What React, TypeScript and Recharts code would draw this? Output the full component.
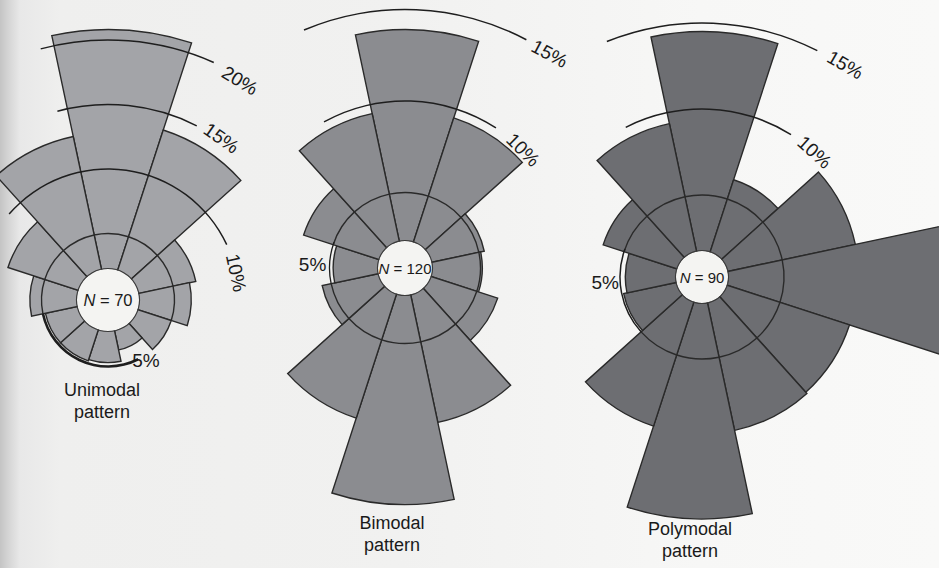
import React from 'react'
import {
  RadialBarChart,
  RadialBar,
  PolarAngleAxis,
  PolarRadiusAxis,
  PieChart,
  Pie,
  Cell,
} from 'recharts'

const W = 939
const H = 568
const FONT = '"Liberation Sans", Arial, Helvetica, sans-serif'

// 12 direction classes of 30 degrees, clockwise from north
const directions = ['N', 'NNE', 'ENE', 'E', 'ESE', 'SSE', 'S', 'SSW', 'WSW', 'W', 'WNW', 'NNW']

// percent of observations per direction class
const unimodalValues = [20.8, 13.7, 6.8, 6.3, 5.0, 3.8, 4.7, 4.8, 4.8, 5.9, 8.0, 12.8]
const bimodalValues = [13.9, 9.5, 5.3, 5.1, 6.2, 9.5, 13.8, 9.5, 5.5, 4.8, 6.7, 9.5]
const polymodalValues = [14.4, 6.0, 9.2, 17.5, 9.1, 9.2, 14.2, 9.2, 4.7, 4.5, 6.1, 9.2]

const sampleSizes = [70, 120, 90]
const captionLines = [
  ['Unimodal', 'pattern'],
  ['Bimodal', 'pattern'],
  ['Polymodal', 'pattern'],
]

const RING = 5 // the inner reference circle drawn across the petals
const VMAX = 25
const ROT = 3 // the scan is turned a little

type ArcSpec = {
  pct: number
  from: number
  to: number
  w: number
  text: string
  at: number
  off: number
  tilt?: number
  upright?: boolean
}

type RoseCfg = {
  values: number[]
  n: number
  caption: string[]
  cx: number
  cy: number
  a: number
  b: number
  hole: number
  fill: string
  nSize: number
  capX: number
  capY: number
  arcs: ArcSpec[]
}

const roses: RoseCfg[] = [
  {
    values: unimodalValues,
    n: sampleSizes[0],
    caption: captionLines[0],
    cx: 108,
    cy: 300,
    a: 2,
    b: 12.9,
    hole: 31,
    fill: '#a3a4a8',
    nSize: 16.5,
    capX: 102,
    capY: 396,
    arcs: [
      { pct: 5, from: 153, to: 258, w: 2.6, text: '5%', at: 148, off: 5, upright: true },
      { pct: 10, from: -49, to: 65, w: 1.5, text: '10%', at: 78, off: 0 },
      { pct: 15, from: -15, to: 27, w: 1.5, text: '15%', at: 35, off: 2 },
      { pct: 20, from: -15, to: 24, w: 1.5, text: '20%', at: 31, off: -4 },
    ],
  },
  {
    values: bimodalValues,
    n: sampleSizes[1],
    caption: captionLines[1],
    cx: 405,
    cy: 268,
    a: -16,
    b: 18.3,
    hole: 27,
    fill: '#8b8c90',
    nSize: 15,
    capX: 392,
    capY: 529,
    arcs: [
      { pct: 5, from: 258, to: 290, w: 1.3, text: '5%', at: 272, off: 17, upright: true },
      { pct: 10, from: -29, to: 33, w: 1.5, text: '10%', at: 45, off: 0 },
      { pct: 15, from: -23, to: 28, w: 1.5, text: '15%', at: 34, off: 0, tilt: -6 },
    ],
  },
  {
    values: polymodalValues,
    n: sampleSizes[2],
    caption: captionLines[2],
    cx: 702,
    cy: 277,
    a: -4,
    b: 17.2,
    hole: 26,
    fill: '#6d6e72',
    nSize: 15,
    capX: 690,
    capY: 535,
    arcs: [
      { pct: 5, from: 228, to: 290, w: 1.5, text: '5%', at: 267, off: 15, upright: true },
      { pct: 10, from: -27, to: 32, w: 1.5, text: '10%', at: 42, off: 0 },
      { pct: 15, from: -22, to: 27, w: 1.5, text: '15%', at: 34, off: 2, tilt: -4 },
    ],
  },
]

const toChartAngle = (compass: number) => 90 - compass

function Rose({ cfg }: { cfg: RoseCfg }) {
  const data = directions.map((dir, i) => ({ dir, v: cfg.values[i], slot: 1 }))
  const rad = (p: number) => cfg.a + cfg.b * p
  const d0 = -cfg.a / cfg.b
  const R = rad(VMAX)
  // first class spans compass -15+ROT .. 15+ROT, going clockwise
  const pieStart = toChartAngle(-15 + ROT)
  const pieEnd = pieStart - 360
  // the radial bar chart places each band one step later than the pie does
  const barStart = pieStart - 30
  const barEnd = barStart - 360
  const r5 = rad(RING)

  const pt = (compass: number, r: number) => {
    const t = (compass * Math.PI) / 180
    return { x: cfg.cx + r * Math.sin(t), y: cfg.cy - r * Math.cos(t) }
  }

  return (
    <>
      <div style={{ position: 'absolute', left: 0, top: 0 }}>
        <RadialBarChart
          width={W}
          height={H}
          data={data}
          cx={cfg.cx}
          cy={cfg.cy}
          innerRadius={0}
          outerRadius={R}
          startAngle={barStart}
          endAngle={barEnd}
          layout="centric"
          barCategoryGap={0}
          barGap={0}
          margin={{ top: 0, right: 0, bottom: 0, left: 0 }}
        >
          <PolarAngleAxis type="category" dataKey="dir" tick={false} tickLine={false} axisLine={false} />
          <PolarRadiusAxis
            type="number"
            domain={[d0, VMAX]}
            allowDataOverflow
            tick={false}
            axisLine={false}
            tickLine={false}
          />
          <RadialBar
            dataKey="v"
            fill={cfg.fill}
            stroke="#2a2a2a"
            strokeWidth={1.4}
            isAnimationActive={false}
          />
        </RadialBarChart>
      </div>
      <div style={{ position: 'absolute', left: 0, top: 0 }}>
        <PieChart width={W} height={H} margin={{ top: 0, right: 0, bottom: 0, left: 0 }}>
          {/* 5% circle, only inside the petals that pass it */}
          <Pie
            data={data}
            dataKey="slot"
            cx={cfg.cx}
            cy={cfg.cy}
            innerRadius={r5 - 0.7}
            outerRadius={r5 + 0.7}
            startAngle={pieStart}
            endAngle={pieEnd}
            stroke="none"
            isAnimationActive={false}
          >
            {data.map((d) => (
              <Cell key={d.dir} fill={d.v > RING ? '#2a2a2a' : 'transparent'} />
            ))}
          </Pie>
          {cfg.arcs.map((arc) => {
            const r = rad(arc.pct)
            return (
              <Pie
                key={arc.text}
                data={[{ arc: 1 }]}
                dataKey="arc"
                cx={cfg.cx}
                cy={cfg.cy}
                innerRadius={r - arc.w / 2}
                outerRadius={r + arc.w / 2}
                startAngle={toChartAngle(arc.from)}
                endAngle={toChartAngle(arc.to)}
                fill="#1e1e1e"
                stroke="none"
                isAnimationActive={false}
                labelLine={false}
                label={() => {
                  const p = pt(arc.at, r + arc.off)
                  const turn = arc.at + (arc.tilt ?? 0)
                  return (
                    <text
                      x={p.x}
                      y={p.y}
                      textAnchor="middle"
                      dominantBaseline="central"
                      fontSize={19}
                      fontFamily={FONT}
                      fill="#1a1a1a"
                      transform={arc.upright ? undefined : `rotate(${turn}, ${p.x}, ${p.y})`}
                    >
                      {arc.text}
                    </text>
                  )
                }}
              />
            )
          })}
          <Pie
            data={[{ hole: 1 }]}
            dataKey="hole"
            cx={cfg.cx}
            cy={cfg.cy}
            innerRadius={0}
            outerRadius={cfg.hole}
            startAngle={0}
            endAngle={360}
            fill="#f4f4f2"
            stroke="none"
            isAnimationActive={false}
            labelLine={false}
            label={() => (
              <text
                x={cfg.cx}
                y={cfg.cy}
                textAnchor="middle"
                dominantBaseline="central"
                fontSize={cfg.nSize}
                fontFamily={FONT}
                fill="#1a1a1a"
              >
                <tspan fontStyle="italic">N</tspan> = {cfg.n}
              </text>
            )}
          />
          <Pie
            data={[{ hole: 1 }]}
            dataKey="hole"
            cx={cfg.cx}
            cy={cfg.cy}
            innerRadius={cfg.hole}
            outerRadius={cfg.hole + 1.1}
            startAngle={0}
            endAngle={360}
            fill="#3a3a3a"
            stroke="none"
            isAnimationActive={false}
          />
        </PieChart>
      </div>
      <div
        style={{
          position: 'absolute',
          left: cfg.capX - 100,
          top: cfg.capY - 17,
          width: 200,
          textAlign: 'center',
          fontFamily: FONT,
          fontSize: 18,
          lineHeight: '22px',
          color: '#1a1a1a',
        }}
      >
        {cfg.caption.map((line) => (
          <div key={line}>{line}</div>
        ))}
      </div>
    </>
  )
}

export default function App() {
  return (
    <div
      style={{
        position: 'absolute',
        left: 0,
        top: 0,
        width: W,
        height: H,
        overflow: 'hidden',
        background:
          'linear-gradient(90deg, #c4c4c4 0px, #d4d4d4 8px, #e8e8e8 20px, #efefee 60px, #f1f1f0 400px, #f7f7f6 700px, #f9f9f8 100%)',
      }}
    >
      {roses.map((cfg) => (
        <Rose key={cfg.n} cfg={cfg} />
      ))}
    </div>
  )
}
